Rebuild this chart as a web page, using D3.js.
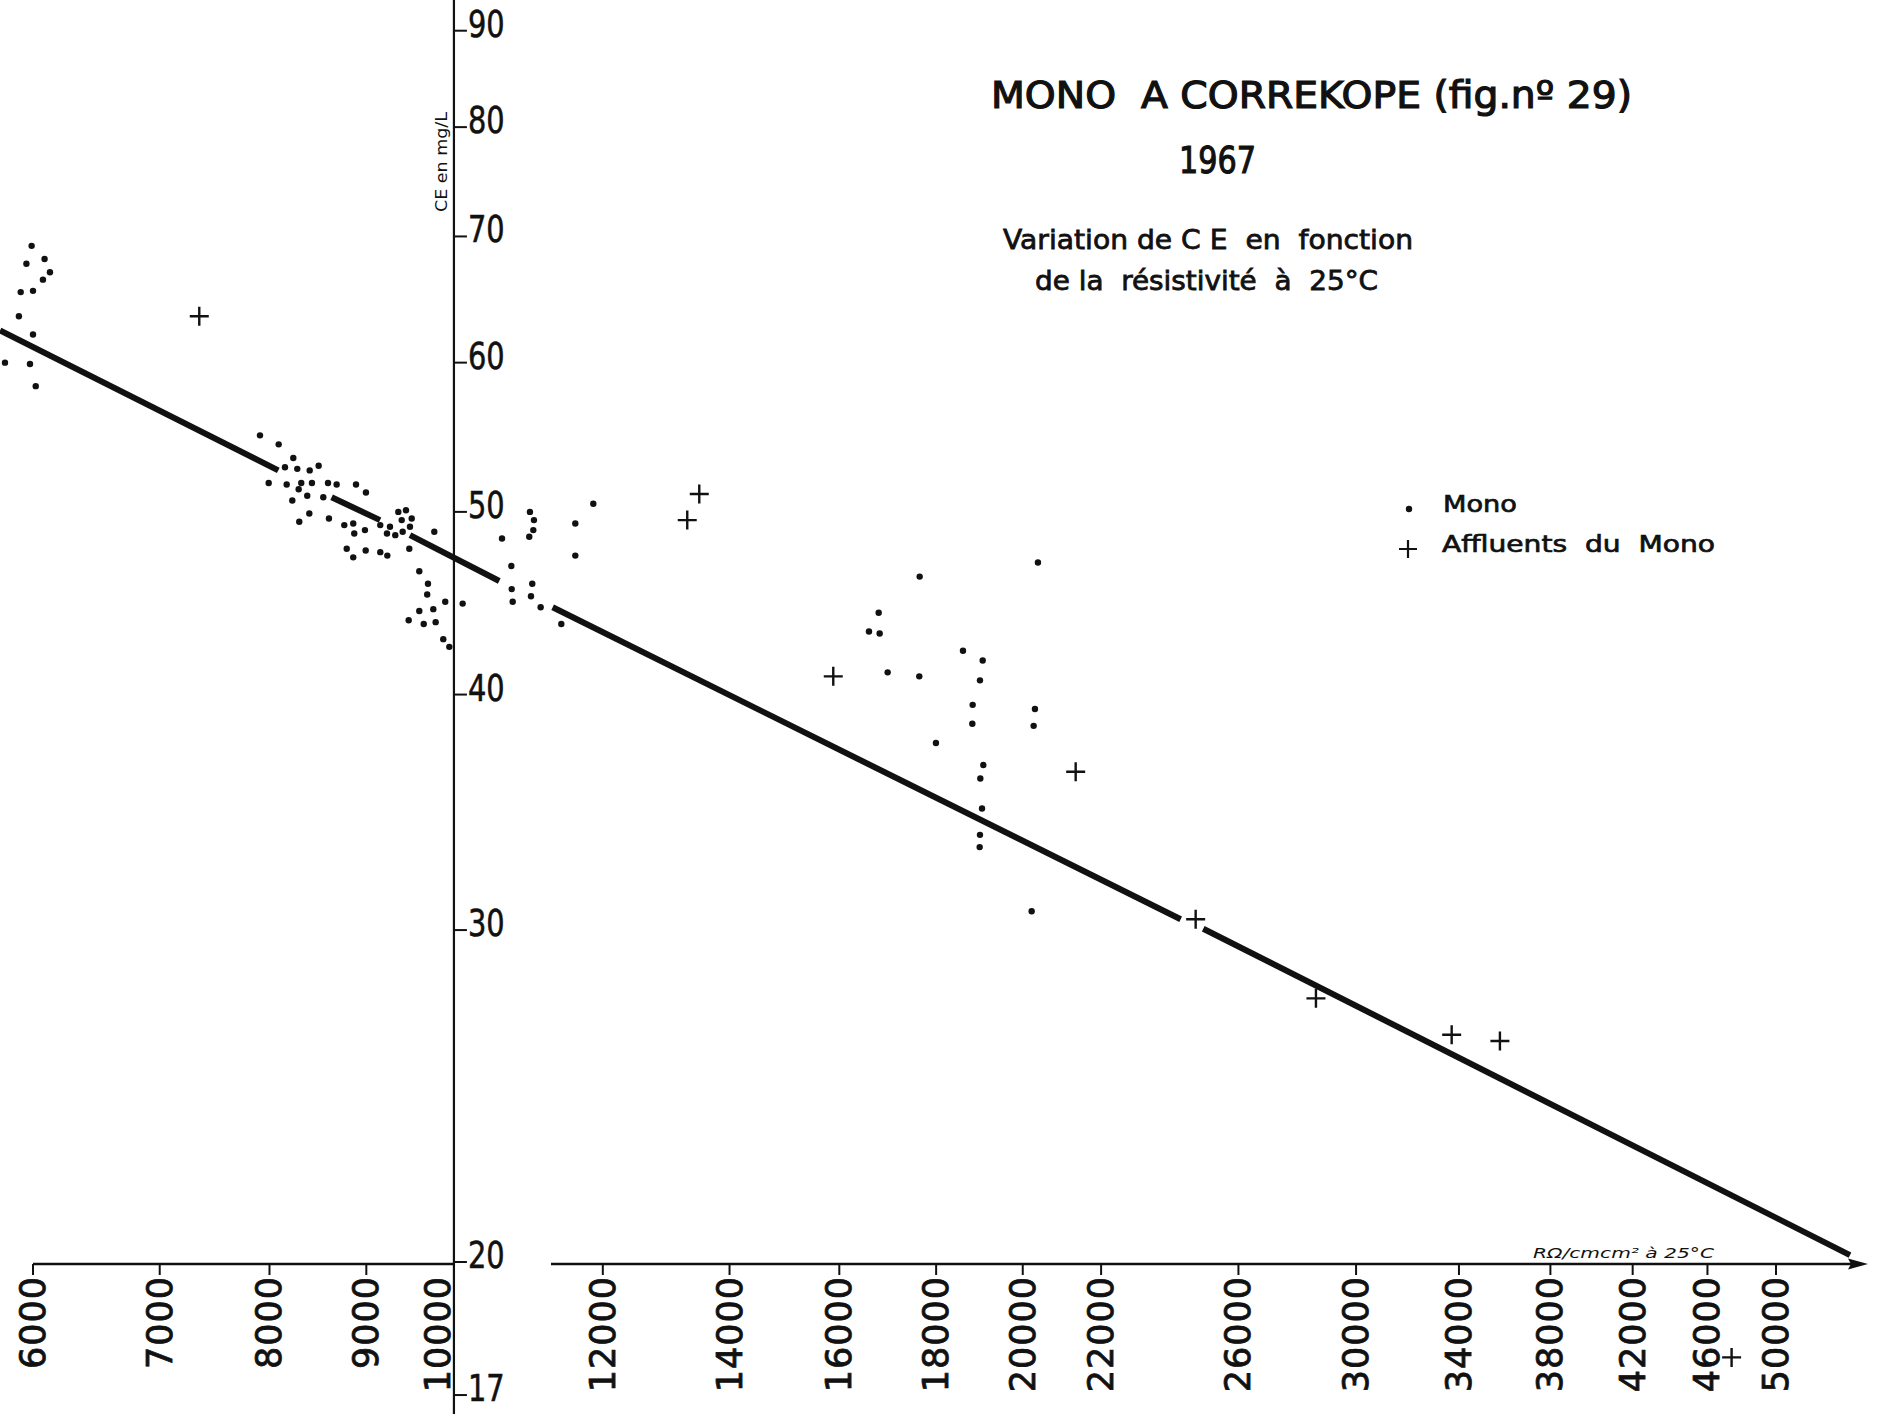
<!DOCTYPE html>
<html>
<head>
<meta charset="utf-8">
<script src="https://cdn.jsdelivr.net/npm/d3@7"></script>
<style>
  html, body { margin: 0; padding: 0; background: #fff; }
  svg { display: block; }
  text { font-family: "DejaVu Sans", sans-serif; fill: #111; }
</style>
</head>
<body>
<svg id="chart" width="1877" height="1414"></svg>
<script>
// ---------------- DATA ----------------
const xTicks = [6000, 7000, 8000, 9000, 10000, 12000, 14000, 16000, 18000, 20000, 22000, 26000, 30000, 34000, 38000, 42000, 46000, 50000];
const yTicks = [17, 20, 30, 40, 50, 60, 70, 80, 90];

// Mono (dots): [resistivity, CE mg/l]
const monoPoints = [
  [5990,69.2],[6085,68.1],[5952,67.7],[6125,67.0],[6073,66.4],[5911,65.4],[6000,65.5],[5898,63.5],[6000,62.1],[5799,60.0],[5978,59.9],[6020,58.3],
  [7908,54.9],[8090,54.3],[8235,53.4],[8152,52.8],[8275,52.7],[8401,52.6],[8493,52.9],[7992,51.8],[8169,51.7],[8315,51.8],[8424,51.8],[8590,51.8],
  [8681,51.7],[8888,51.7],[8289,51.4],[8376,51.0],[8541,50.9],[8996,51.2],[8225,50.7],[8397,49.9],[8295,49.4],[8600,49.6],[8762,49.2],[8858,49.3],
  [8869,48.7],[8985,48.9],[9154,49.2],[9263,49.1],[9229,48.7],[9323,48.6],[9357,50.0],[9445,50.1],[9396,49.5],[9511,49.6],[9491,49.1],[9407,48.8],
  [9776,48.8],[8788,47.8],[8858,47.3],[8993,47.7],[9154,47.6],[9233,47.4],[9483,47.8],[9599,46.5],[9701,45.8],[9692,45.2],[9907,44.8],[9599,44.3],
  [9764,44.4],[9476,43.8],[9651,43.6],[9792,43.7],[9883,42.8],[9956,42.4],[10119,44.7],
  [10615,48.4],[10982,50.0],[11036,49.5],[11027,48.9],[10973,48.5],[10736,46.8],[10741,45.5],[10754,44.8],[11013,45.8],[10996,45.1],[11126,44.5],
  [11409,43.6],[11605,49.3],[11605,47.4],[11862,50.5],
  [17643,46.2],[20373,47.0],[16785,44.2],[16588,43.2],[16805,43.1],[18598,42.2],[19049,41.7],[16969,41.1],[17635,40.9],[18986,40.7],[18818,39.5],
  [18810,38.6],[20299,39.3],[20267,38.5],[17996,37.7],[19063,36.7],[18994,36.1],[19033,34.8],[18986,33.7],[18979,33.2],[20218,30.7]
];

// Affluents du Mono (crosses)
const affluentPoints = [
  [7345,63.5],[13298,49.5],[13494,51.1],[15883,40.9],[21330,36.4],[24682,30.4],[28571,27.6],[33700,26.4],[35737,26.2],[47371,17.8]
];

// Fitted line, drawn in pieces (gaps as on the original drawing)
const trendSegments = [
  [[5764,62.4],[8086,52.6]],
  [[8628,50.9],[9151,49.5]],
  [[9491,48.6],[10580,45.95]],
  [[11290,44.5],[24236,30.4]],
  [[24911,30.05],[54709,20.17]]
];

const titleText = "MONO\u00A0\u00A0A CORREKOPE (fig.nº 29)";
const yearText = "1967";
const subtitleLines = ["Variation de C E  en  fonction", "de la  résistivité  à  25°C"];
const legendLabels = ["Mono", "Affluents  du  Mono"];
const xAxisTitle = "RΩ/cmcm² à 25°C";
const yAxisTitle = "CE en mg/L";

// ---------------- DRAW ----------------
const svg = d3.select("#chart");
const W = 1877, H = 1414;

const x = d3.scaleLog().domain([6000, 50000]).range([33, 1776]);
const y = d3.scaleLog().domain([20, 90]).range([1262, 30.7]);

const axisY = 1264;
const yAxisX = x(10000) + 1;

// Y axis (vertical full height line)
svg.append("line")
  .attr("x1", yAxisX).attr("x2", yAxisX).attr("y1", 0).attr("y2", H)
  .attr("stroke", "#111").attr("stroke-width", 2.2);

// Y ticks and labels
const yg = svg.append("g");
yTicks.forEach(v => {
  const yy = y(v);
  yg.append("line").attr("x1", yAxisX).attr("x2", yAxisX + 13).attr("y1", yy).attr("y2", yy)
    .attr("stroke", "#111").attr("stroke-width", 2);
  yg.append("text")
    .attr("transform", `translate(${yAxisX + 14},${yy + 6}) scale(0.76,1)`)
    .attr("font-size", 38)
    .attr("stroke", "#111").attr("stroke-width", 0.6)
    .text(v);
});

// X axis: two segments + arrow
svg.append("line").attr("x1", x(6000)).attr("x2", yAxisX).attr("y1", axisY).attr("y2", axisY)
  .attr("stroke", "#111").attr("stroke-width", 2.4);
svg.append("line").attr("x1", 551).attr("x2", 1852).attr("y1", axisY).attr("y2", axisY)
  .attr("stroke", "#111").attr("stroke-width", 2.4);
svg.append("path").attr("d", `M1868,${axisY} L1848,${axisY - 5.5} L1851,${axisY} L1848,${axisY + 5.5} Z`)
  .attr("fill", "#111");

// X ticks and labels
const xg = svg.append("g");
xTicks.forEach(v => {
  const xx = x(v);
  if (v !== 10000) {
    xg.append("line").attr("x1", xx).attr("x2", xx).attr("y1", axisY).attr("y2", axisY + 11)
      .attr("stroke", "#111").attr("stroke-width", 2);
  }
  const lx = v === 10000 ? xx - 15 : xx;
  xg.append("text")
    .attr("transform", `translate(${lx},${axisY + 12}) rotate(-90)`)
    .attr("text-anchor", "end")
    .attr("dominant-baseline", "central")
    .attr("font-size", 35)
    .attr("letter-spacing", 1)
    .attr("stroke", "#111").attr("stroke-width", 0.8)
    .text(v);
});

// Axis titles
svg.append("text")
  .attr("x", 1533).attr("y", 1258)
  .attr("font-size", 14).attr("font-style", "italic")
  .attr("textLength", 181).attr("lengthAdjust", "spacingAndGlyphs")
  .text(xAxisTitle);
svg.append("text")
  .attr("transform", `translate(447,162) rotate(-90)`)
  .attr("text-anchor", "middle")
  .attr("font-size", 15)
  .attr("textLength", 100).attr("lengthAdjust", "spacingAndGlyphs")
  .text(yAxisTitle);

// Trend line
const lineGen = d3.line().x(d => x(d[0])).y(d => y(d[1]));
svg.append("g").selectAll("path").data(trendSegments).join("path")
  .attr("d", lineGen)
  .attr("fill", "none").attr("stroke", "#111").attr("stroke-width", 6);

// Mono dots
svg.append("g").selectAll("circle").data(monoPoints).join("circle")
  .attr("cx", d => x(d[0])).attr("cy", d => y(d[1])).attr("r", 3.2)
  .attr("fill", "#111");

// Affluents crosses
const cs = 9.5;
svg.append("g").selectAll("path").data(affluentPoints).join("path")
  .attr("d", d => {
    const cx = x(d[0]), cy = y(d[1]);
    return `M${cx - cs},${cy} H${cx + cs} M${cx},${cy - cs} V${cy + cs}`;
  })
  .attr("stroke", "#111").attr("stroke-width", 2.4).attr("fill", "none");

// Titles
svg.append("text").attr("x", 991).attr("y", 108).attr("font-size", 37)
  .attr("textLength", 641).attr("lengthAdjust", "spacingAndGlyphs")
  .attr("stroke", "#111").attr("stroke-width", 1.2)
  .style("white-space", "pre")
  .text(titleText);
svg.append("text").attr("x", 1179).attr("y", 173).attr("font-size", 38)
  .attr("textLength", 77).attr("lengthAdjust", "spacingAndGlyphs")
  .attr("stroke", "#111").attr("stroke-width", 1.2)
  .text(yearText);
svg.append("text").attr("x", 1003).attr("y", 249).attr("font-size", 27)
  .attr("textLength", 410).attr("lengthAdjust", "spacingAndGlyphs")
  .attr("stroke", "#111").attr("stroke-width", 0.8)
  .style("white-space", "pre")
  .text(subtitleLines[0]);
svg.append("text").attr("x", 1035).attr("y", 290).attr("font-size", 27)
  .attr("textLength", 343).attr("lengthAdjust", "spacingAndGlyphs")
  .attr("stroke", "#111").attr("stroke-width", 0.8)
  .style("white-space", "pre")
  .text(subtitleLines[1]);

// Legend
svg.append("circle").attr("cx", 1409).attr("cy", 509).attr("r", 3.2).attr("fill", "#111");
svg.append("text").attr("x", 1443).attr("y", 512).attr("font-size", 23)
  .attr("textLength", 74).attr("lengthAdjust", "spacingAndGlyphs")
  .attr("stroke", "#111").attr("stroke-width", 0.7)
  .text(legendLabels[0]);
svg.append("path").attr("d", `M1399,549 H1417 M1408,540 V558`)
  .attr("stroke", "#111").attr("stroke-width", 2.2);
svg.append("text").attr("x", 1442).attr("y", 552).attr("font-size", 23)
  .attr("textLength", 273).attr("lengthAdjust", "spacingAndGlyphs")
  .attr("stroke", "#111").attr("stroke-width", 0.7)
  .style("white-space", "pre")
  .text(legendLabels[1]);
</script>
</body>
</html>
